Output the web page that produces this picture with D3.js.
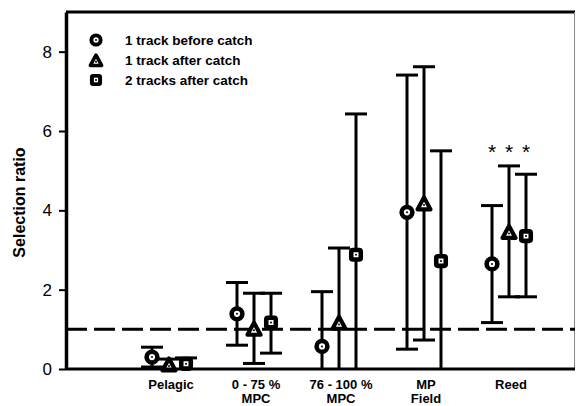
<!DOCTYPE html>
<html>
<head>
<meta charset="utf-8">
<script src="https://cdn.jsdelivr.net/npm/d3@7"></script>
<style>
  body { margin: 0; background: #fff; }
  svg { font-family: "Liberation Sans", Arial, sans-serif; }
</style>
</head>
<body>
<div id="chart"></div>
<script>
// categories on the x axis (second line of label after \n)
var categories = ["Pelagic", "0 - 75 %\nMPC", "76 - 100 %\nMPC", "MP\nField", "Reed"];
var seriesNames = ["1 track before catch", "1 track after catch", "2 tracks after catch"];
var seriesShapes = ["circle", "triangle", "square"];

// selection ratio estimates, one array per series
var beforeMean  = [0.30, 1.39, 0.57, 3.95, 2.65];
var beforeLow   = [0.05, 0.60, 0.00, 0.50, 1.17];
var beforeHigh  = [0.55, 2.18, 1.95, 7.41, 4.12];

var afterMean   = [0.12, 1.02, 1.17, 4.18, 3.46];
var afterLow    = [0.00, 0.14, 0.00, 0.73, 1.82];
var afterHigh   = [0.25, 1.91, 3.05, 7.62, 5.12];

var twoMean     = [0.13, 1.17, 2.88, 2.72, 3.35];
var twoLow      = [0.00, 0.40, 0.00, 0.00, 1.82];
var twoHigh     = [0.28, 1.91, 6.43, 5.50, 4.91];

// significance markers (category, series index, value)
var sigCategory = ["Reed", "Reed", "Reed"];
var sigSeries = [0, 1, 2];
var sigValue = [5.3, 5.3, 5.3];

var yTicks = [0, 2, 4, 6, 8];
var refValue = 1;

var W = 576, H = 406;
var margin = { top: 12, right: 1, bottom: 37, left: 66 };

var svg = d3.select("#chart").append("svg")
  .attr("width", W)
  .attr("height", H);

var plotW = W - margin.left - margin.right;
var plotH = H - margin.top - margin.bottom;

var g = svg.append("g")
  .attr("transform", `translate(${margin.left}, ${margin.top})`);

var x = d3.scalePoint()
  .domain(categories)
  .range([103, plotW - 66]);

var offset = d3.scalePoint()
  .domain([0, 1, 2])
  .range([-17, 17]);

var y = d3.scaleLinear()
  .domain([0, 9])
  .range([plotH, 0]);

// build rows for drawing
var means = [beforeMean, afterMean, twoMean];
var lows = [beforeLow, afterLow, twoLow];
var highs = [beforeHigh, afterHigh, twoHigh];
var rows = [];
means.forEach(function (m, s) {
  categories.forEach(function (c, i) {
    rows.push({ cat: c, s: s, mean: m[i], low: lows[s][i], high: highs[s][i] });
  });
});

// frame: top line and thin right edge
g.append("line")
  .attr("x1", 0).attr("x2", plotW)
  .attr("y1", 0).attr("y2", 0)
  .attr("stroke", "#000").attr("stroke-width", 3);
g.append("line")
  .attr("x1", plotW - 0.5).attr("x2", plotW - 0.5)
  .attr("y1", 0).attr("y2", plotH)
  .attr("stroke", "#888").attr("stroke-width", 1);

// reference line at 1
g.append("line")
  .attr("x1", 0).attr("x2", plotW)
  .attr("y1", y(refValue)).attr("y2", y(refValue))
  .attr("stroke", "#000")
  .attr("stroke-width", 3)
  .attr("stroke-dasharray", "21,7");

// error bars
var bars = g.selectAll(".err")
  .data(rows)
  .enter().append("g")
  .attr("class", "err")
  .attr("transform", function (d) { return `translate(${x(d.cat) + offset(d.s)}, 0)`; });

bars.append("line")
  .attr("y1", function (d) { return y(d.low); })
  .attr("y2", function (d) { return y(d.high); })
  .attr("stroke", "#000").attr("stroke-width", 3);

bars.append("line")
  .attr("x1", -11).attr("x2", 11)
  .attr("y1", function (d) { return y(d.high); })
  .attr("y2", function (d) { return y(d.high); })
  .attr("stroke", "#000").attr("stroke-width", 3);

bars.filter(function (d) { return d.low > 0; })
  .append("line")
  .attr("x1", -11).attr("x2", 11)
  .attr("y1", function (d) { return y(d.low); })
  .attr("y2", function (d) { return y(d.low); })
  .attr("stroke", "#000").attr("stroke-width", 3);

// markers
function drawSymbol(sel, shape, size) {
  var k = size / 14;
  if (shape === "circle") {
    sel.append("circle").attr("r", 5.2 * k)
      .attr("fill", "#fff").attr("stroke", "#000").attr("stroke-width", 4.4 * k);
  } else if (shape === "triangle") {
    sel.append("path")
      .attr("d", `M0,${-6.5 * k} L${6.3 * k},${5 * k} L${-6.3 * k},${5 * k} Z`)
      .attr("transform", "translate(0,1)")
      .attr("fill", "#fff").attr("stroke", "#000")
      .attr("stroke-width", 4 * k).attr("stroke-linejoin", "round");
  } else {
    sel.append("rect")
      .attr("x", -4.6 * k).attr("y", -4.6 * k)
      .attr("width", 9.2 * k).attr("height", 9.2 * k)
      .attr("rx", 1.5 * k)
      .attr("fill", "#fff").attr("stroke", "#000").attr("stroke-width", 4.4 * k);
  }
  sel.append("circle").attr("r", 1).attr("fill", "#000")
    .attr("cy", shape === "triangle" ? 1.8 : 0);
}

bars.append("g")
  .attr("transform", function (d) { return `translate(0, ${y(d.mean)})`; })
  .each(function (d) { drawSymbol(d3.select(this), seriesShapes[d.s], 14.5); });

// significance asterisks
g.selectAll(".sig")
  .data(sigCategory)
  .enter().append("text")
  .attr("class", "sig")
  .attr("x", function (d, i) { return x(d) + offset(sigSeries[i]); })
  .attr("y", function (d, i) { return y(sigValue[i]); })
  .attr("text-anchor", "middle")
  .attr("font-size", "21px")
  .text("*");

// x axis line
g.append("line")
  .attr("x1", 0).attr("x2", plotW)
  .attr("y1", plotH).attr("y2", plotH)
  .attr("stroke", "#000").attr("stroke-width", 3);

// y axis
var yAxis = g.append("g")
  .attr("class", "y axis")
  .call(d3.axisLeft(y).tickValues(yTicks).tickSize(7).tickSizeOuter(0).tickPadding(7));
yAxis.select(".domain").attr("stroke-width", 3.5);
yAxis.selectAll(".tick line").attr("stroke-width", 2);
yAxis.selectAll(".tick text")
  .attr("font-size", "17px")
  .attr("font-family", "Liberation Sans, Arial, sans-serif")
  .attr("fill", "#000");

// x labels
var xl = g.selectAll(".xlab")
  .data(categories)
  .enter().append("text")
  .attr("class", "xlab")
  .attr("text-anchor", "middle")
  .attr("font-weight", "bold")
  .attr("font-size", "13px")
  .attr("transform", function (d) { return `translate(${x(d) + 2}, ${plotH + 20})`; });
xl.each(function (d) {
  var parts = d.split("\n");
  var t = d3.select(this);
  parts.forEach(function (p, i) {
    t.append("tspan").attr("x", 0).attr("dy", i === 0 ? 0 : 13.5).text(p);
  });
});

// y title
svg.append("text")
  .attr("transform", `translate(19, ${margin.top + plotH / 2 + 12}) rotate(-90)`)
  .attr("text-anchor", "middle")
  .attr("dominant-baseline", "central")
  .attr("font-weight", "bold")
  .attr("font-size", "16px")
  .text("Selection ratio");

// legend
var legend = g.selectAll(".legend")
  .data(seriesNames)
  .enter().append("g")
  .attr("class", "legend")
  .attr("transform", function (d, i) { return `translate(30, ${28 + i * 20})`; });

legend.each(function (d, i) { drawSymbol(d3.select(this), seriesShapes[i], 12.5); });

legend.append("text")
  .attr("x", 29)
  .attr("dy", "0.36em")
  .attr("font-weight", "bold")
  .attr("font-size", "13.5px")
  .text(function (d) { return d; });
</script>
</body>
</html>
